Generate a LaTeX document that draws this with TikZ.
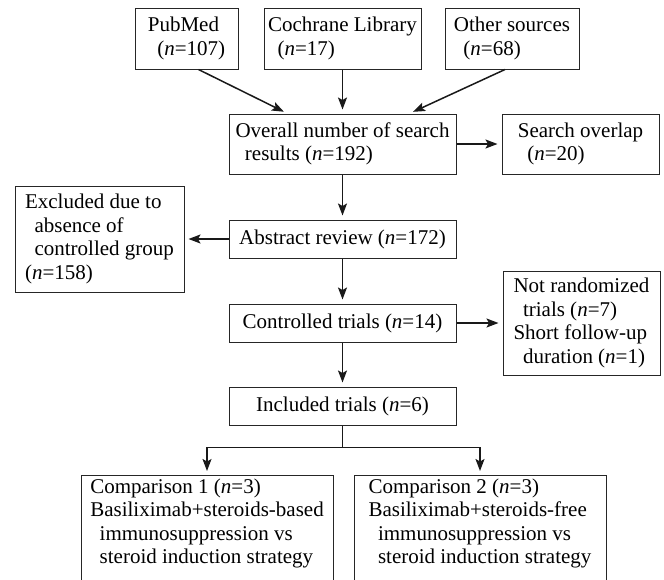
\documentclass[tikz,border=0pt]{standalone}
\usepackage{fontspec}
\setmainfont{Liberation Serif}
\usetikzlibrary{arrows.meta,calc}
\newcommand{\ind}{\hspace*{.45em}}
\newcommand{\nn}[1]{(\textit{n}=#1)}

\begin{document}
\begin{tikzpicture}
  [x=1pt,y=-1pt,
   every node/.style={draw=black!85,line width=1pt,align=left,inner xsep=3.5pt,inner ysep=3pt,
     font=\fontsize{21}{23.5}\selectfont},
   arr/.style={line width=1.5pt,black!90,-{Stealth[length=12pt,width=9pt,inset=2.5pt]},shorten >=4pt}]
  \useasboundingbox (0,0) rectangle (664,579);
  \clip (0,0) rectangle (664,579);
  % sources
  \node[minimum width=103pt,minimum height=61pt] (pubmed) at (186.5,38.5) {PubMed\\\ind\nn{107}};
  \node[minimum width=157pt,minimum height=61pt] (cochrane) at (342.5,38.5) {Cochrane Library\\\ind\nn{17}};
  \node[minimum width=134pt,minimum height=61pt] (other) at (512,38.5) {Other sources\\\ind\nn{68}};
  % main column
  \node[minimum width=227pt,minimum height=60pt] (overall) at (342.5,144) {Overall number of search\\\ind results \nn{192}};
  \node[minimum width=227pt,minimum height=38pt] (abstract) at (342.5,239) {Abstract review \nn{172}};
  \node[minimum width=227pt,minimum height=38pt] (controlled) at (342.5,323) {Controlled trials \nn{14}};
  \node[minimum width=227pt,minimum height=38pt] (included) at (342.5,406) {Included trials \nn{6}};
  % side boxes
  \node[minimum width=157pt,minimum height=60pt] (overlap) at (580.5,144) {Search overlap\\\ind\nn{20}};
  \node[minimum width=169pt,minimum height=106pt] (excluded) at (99.5,239) {Excluded due to\\\ind absence of\\\ind controlled group\\\nn{158}};
  \node[minimum width=157pt,minimum height=104pt] (notrand) at (581.5,323) {Not randomized\\\ind trials \nn{7}\\Short follow-up\\\ind duration \nn{1}};
  % comparisons
  \node[anchor=north,minimum width=252pt,text depth=120pt] (comp1) at (207,475)
    {Comparison 1 \nn{3}\\Basiliximab+steroids-based\\\ind immunosuppression vs\\\ind steroid induction strategy};
  \node[anchor=north,minimum width=252pt,text depth=120pt] (comp2) at (480,475)
    {Comparison 2 \nn{3}\\Basiliximab+steroids-free\\\ind immunosuppression vs\\\ind steroid induction strategy};

  \draw[arr] ($(pubmed.south)+(12,0)$) -- ($(overall.north)+(-55,0)$);
  \draw[arr] ($(other.south)+(-7,0)$) -- ($(overall.north)+(67,0)$);
  \foreach \from/\to in {cochrane/overall,overall/overlap,overall/abstract,abstract/excluded,
      abstract/controlled,controlled/notrand,controlled/included}
    \draw[arr] (\from) -- (\to);
  \draw[line width=1.2pt,black!90] (included.south) -- ++(0,22) coordinate (split);
  \draw[arr] (split) -| (comp1.north);
  \draw[arr] (split) -| (comp2.north);

\end{tikzpicture}
\end{document}
